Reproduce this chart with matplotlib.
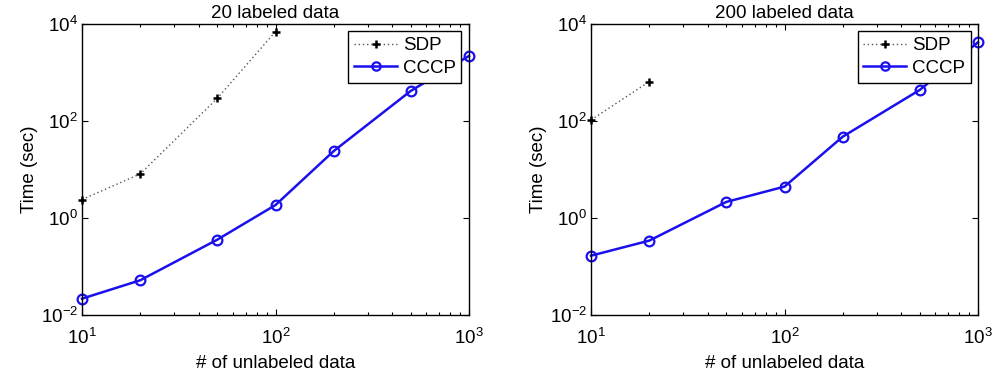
import matplotlib
matplotlib.use("Agg")
import matplotlib.pyplot as plt
from matplotlib.ticker import LogLocator, NullLocator, FixedLocator
from matplotlib.lines import Line2D

plt.rcParams['font.family'] = ['Liberation Sans', 'DejaVu Sans']
plt.rcParams['mathtext.fontset'] = 'custom'
plt.rcParams['mathtext.rm'] = 'Liberation Sans'
plt.rcParams['mathtext.it'] = 'Liberation Sans'

titles = ["20 labeled data", "200 labeled data"]

sdp_x_20 = [10, 20, 50, 100]
sdp_y_20 = [2.4, 8.1, 293, 6950]
cccp_x_20 = [10, 20, 50, 100, 200, 500, 1000]
cccp_y_20 = [0.0217, 0.052, 0.357, 1.85, 24, 416, 2190]

sdp_x_200 = [10, 20]
sdp_y_200 = [105, 647]
cccp_x_200 = [10, 20, 50, 100, 200, 500, 1000]
cccp_y_200 = [0.167, 0.341, 2.14, 4.43, 47.5, 436, 4190]

datasets = [
    (sdp_x_20, sdp_y_20, cccp_x_20, cccp_y_20),
    (sdp_x_200, sdp_y_200, cccp_x_200, cccp_y_200),
]

FS = 13.5
fig = plt.figure(figsize=(9.93, 3.78), dpi=100)
lefts = [0.0826, 0.5952]
for i, (sx, sy, cx, cy) in enumerate(datasets):
    ax = fig.add_axes([lefts[i], 0.1667, 0.3897, 0.770])
    ax.plot(sx, sy, linestyle=(0, (1, 2)), color='#555555', linewidth=1.0,
            label='SDP', clip_on=False)
    ax.plot(sx, sy, linestyle='none', color='black', marker='+', markersize=6,
            markeredgewidth=1.8, clip_on=False)
    ax.plot(cx, cy, linestyle='-', color='#1a10ee', marker='o', markersize=7,
            markerfacecolor='none', markeredgewidth=1.6, linewidth=1.8,
            label='CCCP', clip_on=False)
    ax.set_xscale('log')
    ax.set_yscale('log')
    ax.set_xlim(10, 1000)
    ax.set_ylim(1e-2, 1e4)
    ax.yaxis.set_major_locator(FixedLocator([1e-2, 1e0, 1e2, 1e4]))
    ax.yaxis.set_minor_locator(NullLocator())
    ax.xaxis.set_major_locator(LogLocator(base=10))
    ax.xaxis.set_minor_locator(LogLocator(base=10, subs=range(2, 10)))
    ax.tick_params(which='both', direction='in', top=True, right=True,
                   labelsize=FS, width=0.8)
    ax.tick_params(axis='x', which='major', pad=9)
    ax.tick_params(axis='y', which='major', pad=3)
    ax.tick_params(which='major', length=4)
    ax.tick_params(which='minor', length=2.5)
    for s in ax.spines.values():
        s.set_linewidth(1.0)
    ax.set_title(titles[i], fontsize=FS, pad=4)
    ax.set_xlabel('# of unlabeled data', fontsize=FS, labelpad=5)
    ax.set_ylabel('Time (sec)', fontsize=FS, labelpad=2)
    h_sdp = Line2D([], [], linestyle=(0, (1, 2)), color='#555555', linewidth=1.0,
                   marker='+', markersize=6, markeredgewidth=1.8,
                   markeredgecolor='black')
    h_cccp = Line2D([], [], linestyle='-', color='#1a10ee', marker='o',
                    markersize=6, markerfacecolor='none', markeredgewidth=1.6,
                    linewidth=1.8)
    leg = ax.legend([h_sdp, h_cccp], ['SDP', 'CCCP'], loc='upper right',
                    fontsize=FS, fancybox=False,
                    framealpha=1, edgecolor='black', borderpad=0.3,
                    handlelength=2.3, handletextpad=0.3, labelspacing=0.3,
                    borderaxespad=0.4)
    leg.get_frame().set_linewidth(1.0)

fig.savefig('out.png', dpi=100)
